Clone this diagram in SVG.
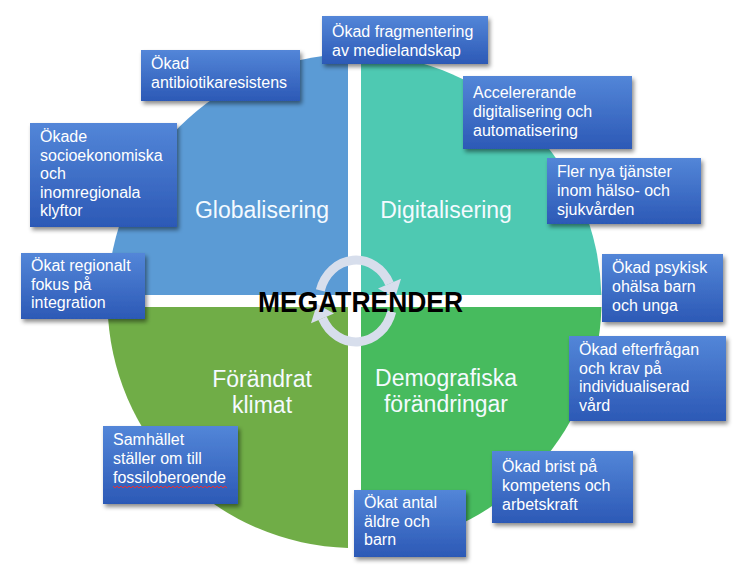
<svg xmlns="http://www.w3.org/2000/svg" width="744" height="565" viewBox="0 0 744 565">
<defs>
<linearGradient id="boxg" x1="0" y1="0" x2="0" y2="1">
<stop offset="0" stop-color="#5386d8"/>
<stop offset="1" stop-color="#2c59b6"/>
</linearGradient>
<filter id="sh" x="-10%" y="-10%" width="125%" height="130%">
<feDropShadow dx="2" dy="3" stdDeviation="2" flood-color="#000" flood-opacity="0.45"/>
</filter>
<style>
.box{fill:url(#boxg);filter:url(#sh);}
.bt{font-family:"Liberation Sans",Arial,sans-serif;font-size:16px;fill:#ffffff;}
.ql{font-family:"Liberation Sans",Arial,sans-serif;font-size:23px;fill:#f4faff;text-anchor:middle;}
.arc{fill:none;stroke:#d7deec;stroke-width:9;}
.ah{fill:#d7deec;}
</style>
</defs>
<rect width="744" height="565" fill="#ffffff"/>

<g id="quadrants">
<g id="q-globalisering">
<path d="M348,295 L107.57,295 A247,247 0 0 1 348,54.1 Z" fill="#5b9bd5"/>
<text class="ql" x="262" y="218">Globalisering</text>
</g>
<g id="q-digitalisering">
<path d="M361,295 L361,54.1 A247,247 0 0 1 601.43,295 Z" fill="#4ec9b2"/>
<text class="ql" x="446" y="218">Digitalisering</text>
</g>
<g id="q-demografiska">
<path d="M361,307 L601.43,307 A247,247 0 0 1 361,547.9 Z" fill="#47bb5e"/>
<text class="ql" x="446" y="386">Demografiska</text>
<text class="ql" x="446" y="412">förändringar</text>
</g>
<g id="q-klimat">
<path d="M348,307 L348,547.9 A247,247 0 0 1 107.57,307 Z" fill="#70ad47"/>
<text class="ql" x="262" y="387">Förändrat</text>
<text class="ql" x="262" y="413">klimat</text>
</g>
</g>

<g id="connectors">
<path class="arc" d="M320.3,290.4 A37,41 0 0 1 389.5,283.7"/>
<polygon class="ah" points="401,278.8 378,288.6 395,298"/>
<path class="arc" d="M391.7,311.6 A37,41 0 0 1 322.5,318.3"/>
<polygon class="ah" points="334,313.4 311,323.2 317,304"/>
</g>

<g id="center-title">
<text x="360.5" y="312" font-family="Liberation Sans,Arial,sans-serif" font-size="30" font-weight="bold" fill="#000000" text-anchor="middle" textLength="205" lengthAdjust="spacingAndGlyphs">MEGATRENDER</text>
</g>

<g id="n-fragmentering">
<rect class="box" x="322" y="16" width="166" height="48"/>
<text class="bt" x="332" y="37">Ökad fragmentering</text>
<text class="bt" x="332" y="56">av medielandskap</text>
</g>
<g id="n-antibiotika">
<rect class="box" x="141" y="50" width="159" height="51"/>
<text class="bt" x="151" y="69">Ökad</text>
<text class="bt" x="151" y="88">antibiotikaresistens</text>
</g>
<g id="n-accelererande">
<rect class="box" x="463" y="76" width="169" height="73"/>
<text class="bt" x="473" y="98">Accelererande</text>
<text class="bt" x="473" y="117">digitalisering och</text>
<text class="bt" x="473" y="136">automatisering</text>
</g>
<g id="n-tjanster">
<rect class="box" x="547" y="158" width="154" height="66"/>
<text class="bt" x="557" y="177">Fler nya tjänster</text>
<text class="bt" x="557" y="196">inom hälso- och</text>
<text class="bt" x="557" y="215">sjukvården</text>
</g>
<g id="n-klyftor">
<rect class="box" x="30" y="123" width="147" height="104"/>
<text class="bt" x="40" y="142">Ökade</text>
<text class="bt" x="40" y="160.5">socioekonomiska</text>
<text class="bt" x="40" y="179">och</text>
<text class="bt" x="40" y="197.5">inomregionala</text>
<text class="bt" x="40" y="216">klyftor</text>
</g>
<g id="n-integration">
<rect class="box" x="21" y="253" width="124" height="66"/>
<text class="bt" x="31" y="271">Ökat regionalt</text>
<text class="bt" x="31" y="289.5">fokus på</text>
<text class="bt" x="31" y="308">integration</text>
</g>
<g id="n-psykisk">
<rect class="box" x="602" y="254" width="121" height="68"/>
<text class="bt" x="612" y="273">Ökad psykisk</text>
<text class="bt" x="612" y="292">ohälsa barn</text>
<text class="bt" x="612" y="311">och unga</text>
</g>
<g id="n-efterfragan">
<rect class="box" x="569" y="336" width="157" height="85"/>
<text class="bt" x="579" y="355">Ökad efterfrågan</text>
<text class="bt" x="579" y="373.5">och krav på</text>
<text class="bt" x="579" y="392">individualiserad</text>
<text class="bt" x="579" y="410.5">vård</text>
</g>
<g id="n-kompetens">
<rect class="box" x="492" y="451" width="141" height="72"/>
<text class="bt" x="502" y="472">Ökad brist på</text>
<text class="bt" x="502" y="491">kompetens och</text>
<text class="bt" x="502" y="510">arbetskraft</text>
</g>
<g id="n-aldre">
<rect class="box" x="354" y="490" width="112" height="67"/>
<text class="bt" x="364" y="508">Ökat antal</text>
<text class="bt" x="364" y="527">äldre och</text>
<text class="bt" x="364" y="545">barn</text>
</g>
<g id="n-fossil">
<rect class="box" x="103" y="426" width="135" height="78"/>
<text class="bt" x="113" y="445">Samhället</text>
<text class="bt" x="113" y="464">ställer om till</text>
<text class="bt" x="113" y="483">fossiloberoende</text>
<polyline points="113,486 115,488 117,486 119,488 121,486 123,488 125,486 127,488 129,486 131,488 133,486 135,488 137,486 139,488 141,486 143,488 145,486 147,488 149,486 151,488 153,486 155,488 157,486 159,488 161,486 163,488 165,486 167,488 169,486 171,488 173,486 175,488 177,486 179,488 181,486 183,488 185,486 187,488 189,486 191,488 193,486 195,488 197,486 199,488 201,486 203,488 205,486 207,488 209,486 211,488 213,486 215,488 217,486 219,488 221,486 223,488 225,486 227,488" fill="none" stroke="#e0303c" stroke-width="1"/>
</g>
</svg>
